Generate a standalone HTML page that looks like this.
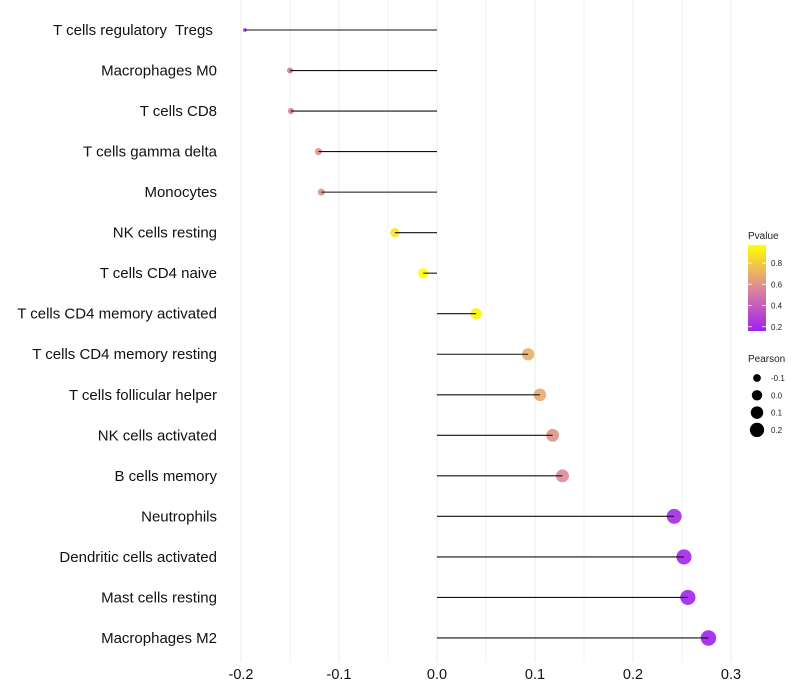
<!DOCTYPE html>
<html><head><meta charset="utf-8">
<style>
body{margin:0;background:#fff;}
svg{display:block;font-family:"Liberation Sans",Arial,sans-serif;}
text{white-space:pre;}
</style></head>
<body>
<svg id="chart" width="800" height="700"></svg>
<script>
const categories=["T cells regulatory  Tregs ","Macrophages M0","T cells CD8","T cells gamma delta","Monocytes","NK cells resting","T cells CD4 naive","T cells CD4 memory activated","T cells CD4 memory resting","T cells follicular helper","NK cells activated","B cells memory","Neutrophils","Dendritic cells activated","Mast cells resting","Macrophages M2"];
const pearson=[-0.196,-0.150,-0.149,-0.121,-0.118,-0.043,-0.014,0.040,0.093,0.105,0.118,0.128,0.242,0.252,0.256,0.277];
const pvalue=[0.20,0.50,0.50,0.60,0.60,0.88,0.97,0.93,0.70,0.68,0.60,0.57,0.20,0.18,0.17,0.16];
const xTicks=[-0.2,-0.1,0.0,0.1,0.2,0.3];
const xTickLabels=["-0.2","-0.1","0.0","0.1","0.2","0.3"];
const pLegendTicks=[0.8,0.6,0.4,0.2];
const sizeLegend=[-0.1,0.0,0.1,0.2];

const NS="http://www.w3.org/2000/svg";
const svg=document.getElementById("chart");
function mk(t,a,p){const e=document.createElementNS(NS,t);for(const k in a)e.setAttribute(k,a[k]);(p||svg).appendChild(e);return e;}
const xS=v=>437+v*980;
const yS=i=>30+i*40.53;
const rS=v=>Math.sqrt(Math.max(1.5,27+120*v));
function lerp(a,b,t){return a.map((x,i)=>Math.round(x+(b[i]-x)*t));}
function col(p){
  const lo=[160,32,240],mid=[221,136,153],hi=[255,255,0];
  const t=Math.min(1,Math.max(0,(p-0.16)/(0.97-0.16)));
  const c=t<0.5?lerp(lo,mid,t/0.5):lerp(mid,hi,(t-0.5)/0.5);
  return `rgb(${c[0]},${c[1]},${c[2]})`;
}
for(let v=-0.2;v<=0.301;v+=0.05){
  const g=mk("line",{x1:xS(v),x2:xS(v),y1:0,y2:662,stroke:"#ebebeb","stroke-width":Math.abs(Math.round(v*100))%10===0?1:0.6});
  
  
}
xTicks.forEach((v,i)=>{
  const t=mk("text",{x:xS(v),y:679,"text-anchor":"middle","font-size":14.5,fill:"#111"});
  t.textContent=xTickLabels[i];
  
  
});
categories.forEach((c,i)=>{
  const y=yS(i);
  const t=mk("text",{x:217,y:y+5,"text-anchor":"end","font-size":15,fill:"#111"});
  t.textContent=c;
  
  
  const d=mk("circle",{cx:xS(pearson[i]),cy:y,r:rS(pearson[i]),fill:col(pvalue[i]),"fill-opacity":0.9});
  
  
  const l=mk("line",{x1:xS(0),x2:xS(pearson[i]),y1:y,y2:y,stroke:"#111","stroke-width":1.1});
  
  
});
const lt=mk("text",{x:748,y:239,"font-size":10,fill:"#222"});lt.textContent="Pvalue";


const defs=mk("defs",{});
const lg=mk("linearGradient",{id:"pg",x1:0,y1:1,x2:0,y2:0},defs);
for(let k=0;k<=10;k++){mk("stop",{offset:k/10,"stop-color":col(0.16+k/10*(0.97-0.16))},lg);}
const bar=mk("rect",{x:748,y:245,width:18,height:86,fill:"url(#pg)"});


pLegendTicks.forEach(p=>{
  const y=331-(p-0.16)/(0.97-0.16)*86;
  mk("line",{x1:748,x2:752,y1:y,y2:y,stroke:"#fff","stroke-width":0.8});
  mk("line",{x1:762,x2:766,y1:y,y2:y,stroke:"#fff","stroke-width":0.8});
  const t=mk("text",{x:771,y:y+3,"font-size":8,fill:"#222"});t.textContent=p.toFixed(1);
  
  
});
const st=mk("text",{x:748,y:362,"font-size":10,fill:"#222"});st.textContent="Pearson";


sizeLegend.forEach((v,i)=>{
  const y=378+i*17.3;
  const c=mk("circle",{cx:757,cy:y,r:rS(v),fill:"#000"});
  
  
  const t=mk("text",{x:771,y:y+3,"font-size":8,fill:"#222"});t.textContent=v.toFixed(1);
  
  
});
</script>
</body></html>
